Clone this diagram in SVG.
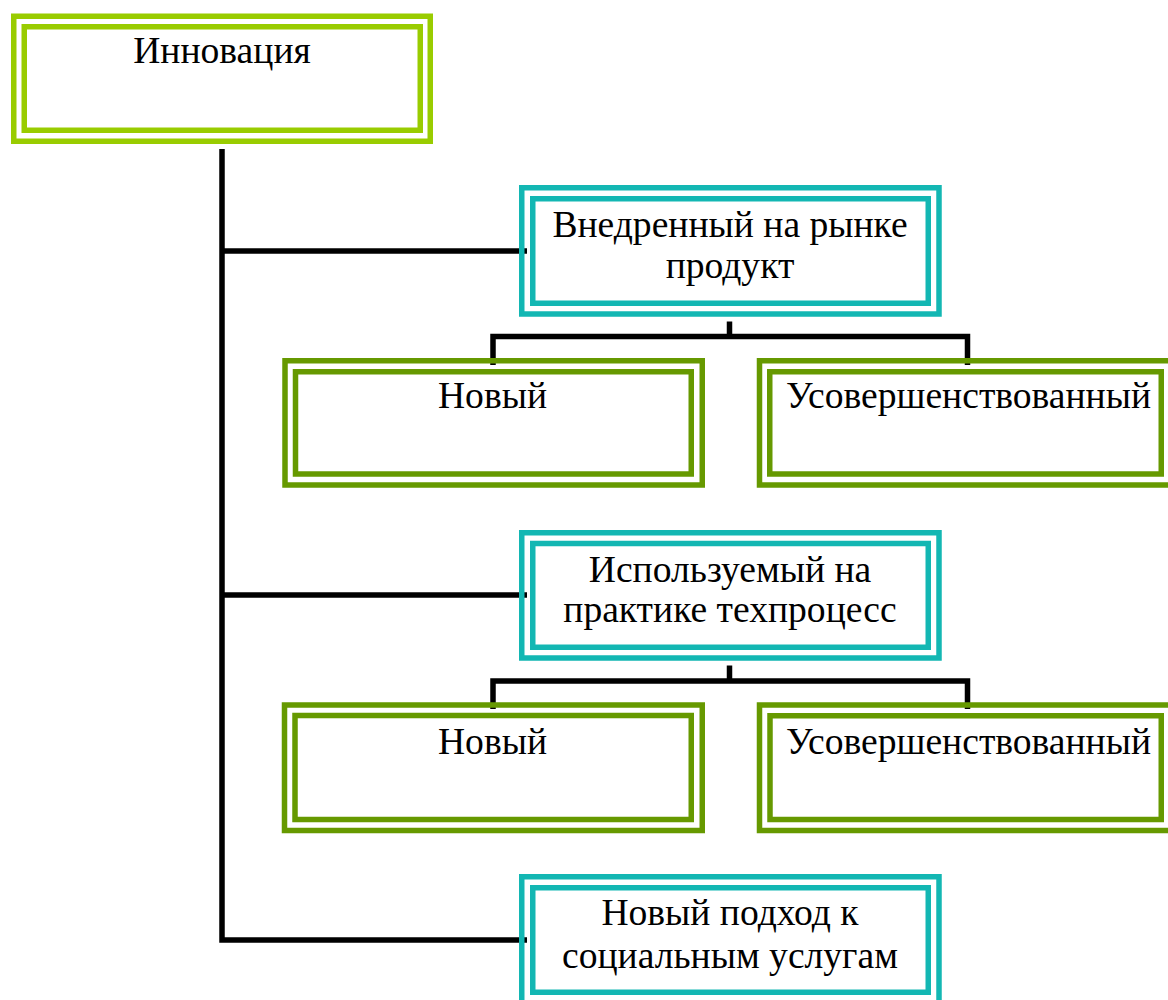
<svg xmlns="http://www.w3.org/2000/svg" width="1168" height="1000" viewBox="0 0 1168 1000">
  <style>
    .frame { fill: none; stroke-width: 5.5; }
    .lime { stroke: #99CC00; }
    .teal { stroke: #13B7B3; }
    .olive { stroke: #669900; }
    .lbl { font-family: "Liberation Serif", "Times New Roman", serif; font-size: 37.6px; fill: #000; text-anchor: middle; }
    .wire { fill: none; stroke: #000; stroke-width: 5.5; stroke-linejoin: miter; stroke-linecap: butt; }
  </style>
  <rect width="1168" height="1000" fill="#fff"/>

  <!-- connectors -->
  <g id="connectors">
    <path class="wire" d="M222,149 V940 H527"/>
    <path class="wire" d="M222,251 H527"/>
    <path class="wire" d="M222,595 H527"/>
    <path class="wire" d="M729.5,321.5 V336.5"/>
    <path class="wire" d="M493,365 V336.5 H967.5 V365"/>
    <path class="wire" d="M729.5,665.5 V681"/>
    <path class="wire" d="M493,709 V681 H967.5 V709"/>
  </g>

  <!-- root -->
  <g id="innovation">
    <rect class="frame lime" x="13.75" y="16.25" width="416.5" height="125"/>
    <rect class="frame lime" x="24.25" y="26.75" width="396" height="103.5"/>
    <text class="lbl" x="222" y="63">Инновация</text>
  </g>

  <!-- product branch -->
  <g id="product">
    <rect class="frame teal" x="521.75" y="187.75" width="417.25" height="126.25"/>
    <rect class="frame teal" x="532.75" y="198.75" width="395.5" height="104.5"/>
    <text class="lbl" x="730" y="237">Внедренный на рынке</text>
    <text class="lbl" x="730" y="278">продукт</text>
  </g>
  <g id="product-new">
    <rect class="frame olive" x="285" y="360.75" width="417.25" height="124.25"/>
    <rect class="frame olive" x="295.5" y="371.75" width="395.75" height="102.25"/>
    <text class="lbl" x="492.5" y="408">Новый</text>
  </g>
  <g id="product-improved">
    <rect class="frame olive" x="759.5" y="360.75" width="417.25" height="124.25"/>
    <rect class="frame olive" x="769.75" y="371.75" width="391.5" height="102.25"/>
    <text class="lbl" x="968.5" y="408">Усовершенствованный</text>
  </g>

  <!-- process branch -->
  <g id="process">
    <rect class="frame teal" x="521.75" y="532.75" width="417.25" height="125.25"/>
    <rect class="frame teal" x="532.75" y="543.5" width="395.5" height="103.75"/>
    <text class="lbl" x="730" y="582">Используемый на</text>
    <text class="lbl" x="730" y="622">практике техпроцесс</text>
  </g>
  <g id="process-new">
    <rect class="frame olive" x="284.5" y="705" width="417.75" height="125.5"/>
    <rect class="frame olive" x="295" y="715.5" width="396.25" height="104"/>
    <text class="lbl" x="492.5" y="754">Новый</text>
  </g>
  <g id="process-improved">
    <rect class="frame olive" x="759.5" y="705" width="417.25" height="125.5"/>
    <rect class="frame olive" x="770" y="715.75" width="391.25" height="103.75"/>
    <text class="lbl" x="968.5" y="754">Усовершенствованный</text>
  </g>

  <!-- social services branch -->
  <g id="social">
    <rect class="frame teal" x="521.75" y="876.75" width="417.25" height="126"/>
    <rect class="frame teal" x="532.75" y="887.75" width="395.5" height="104.5"/>
    <text class="lbl" x="730" y="925">Новый подход к</text>
    <text class="lbl" x="730" y="968">социальным услугам</text>
  </g>
</svg>
